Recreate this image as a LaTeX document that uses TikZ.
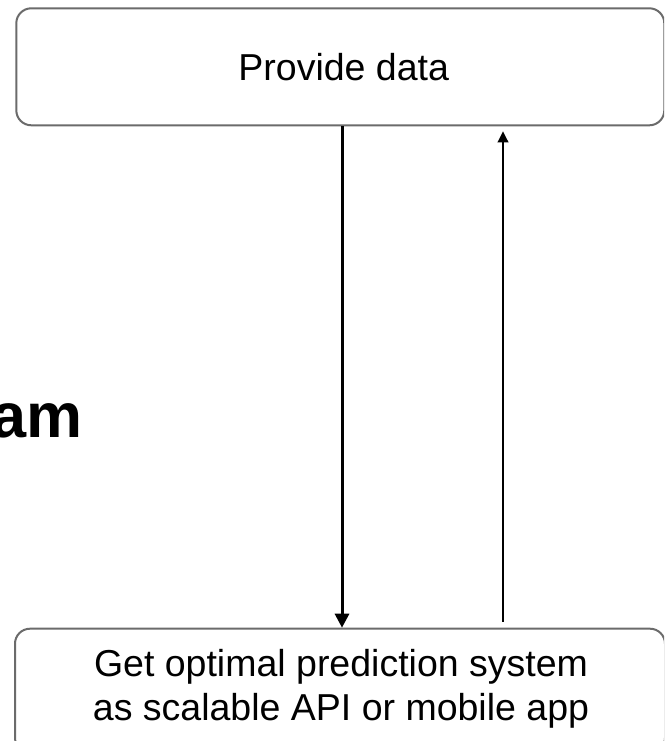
\documentclass[tikz,border=0pt]{standalone}
\usepackage{fontspec}
\setmainfont{Liberation Sans}
\usetikzlibrary{arrows.meta}
\begin{document}
\begin{tikzpicture}[x=1pt,y=-1pt,
  box/.style={draw=boxgray,line width=2pt,rounded corners=15pt,fill=white,
    inner sep=0pt,anchor=north west},
  label/.style={font=\fontsize{37.5}{43.5}\selectfont,align=center,
    inner sep=0pt,anchor=base},
  downar/.style={line width=3pt,-{Triangle[width=14pt,length=14pt]}},
  upar/.style={line width=2pt,-{Triangle[width=10.5pt,length=11pt]}}]
\definecolor{boxgray}{HTML}{6B6B6B}
\useasboundingbox (0,0) rectangle (664,741);
\clip (0,0) rectangle (664,741);
\fill[white] (0,0) rectangle (664,741);

% the two process boxes
\node[box,minimum width=648pt,minimum height=117pt] (top) at (15.3,7.3) {};
\node[box,minimum width=650pt,minimum height=124pt] (bot) at (14,627.7) {};

% their texts (the base anchor of a two-line label is its last line)
\node[label] (toptext) at (343.7,80.3) {Provide data};
\node[label] (bottext) at (341,720)
  {Get optimal prediction system\\as scalable API or mobile app};

% heading, running off the left edge
\node[font=\bfseries\fontsize{63}{63}\selectfont,inner sep=0pt,anchor=base east]
  (head) at (83,437) {am};

% connectors between the boxes
\coordinate (dnx) at (342,0);
\coordinate (upx) at (503,0);
\draw[downar] (top.south -| dnx) -- (bot.north -| dnx);
\draw[upar,shorten <=6pt,shorten >=5pt] (bot.north -| upx) -- (top.south -| upx);
\end{tikzpicture}
\end{document}
